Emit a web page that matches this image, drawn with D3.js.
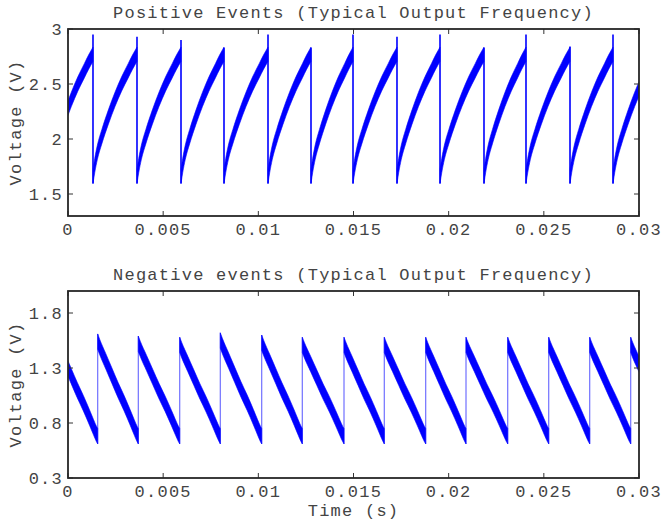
<!DOCTYPE html>
<html>
<head>
<meta charset="utf-8">
<script src="https://cdn.jsdelivr.net/npm/d3@7/dist/d3.min.js"></script>
<style>
  html, body { margin: 0; padding: 0; background: #fff; }
  svg { display: block; }
  text { font-family: "Liberation Mono", "Courier New", monospace; fill: #444; }
</style>
</head>
<body>
<script>
// ---- data ----
const timeTicks = [0, 0.005, 0.01, 0.015, 0.02, 0.025, 0.03];
const timeTickLabels = ["0", "0.005", "0.01", "0.015", "0.02", "0.025", "0.03"];

const posTicks = [1.5, 2, 2.5, 3];
const posTickLabels = ["1.5", "2", "2.5", "3"];
const negTicks = [0.3, 0.8, 1.3, 1.8];
const negTickLabels = ["0.3", "0.8", "1.3", "1.8"];

// Positive events: discharge instants (s) and the short spike reached at each one (V)
const posResets = [0.001313, 0.003625, 0.005937, 0.008196, 0.010508, 0.012767, 0.014974,
                   0.017285, 0.019545, 0.021856, 0.024063, 0.026375, 0.028634];
const posSpikes = [2.95, 2.93, 2.90, 2.83, 2.95, 2.83, 2.95, 2.93, 2.95, 2.83, 2.95, 2.84, 2.95];
// charging ramp between two discharges: fraction of the cycle -> centre voltage
const posRiseFrac  = [0, 0.04, 0.10, 0.20, 0.35, 0.50, 0.65, 0.80, 0.90, 1.00];
const posRiseVolts = [1.66, 1.76, 1.88, 2.02, 2.20, 2.36, 2.50, 2.62, 2.70, 2.77];
const posNoise = 0.065;   // half-width of the noise band (V)

// Negative events: reset instants (s) and the level each ramp starts from (V)
const negResets = [0.001560, 0.003694, 0.005869, 0.008002, 0.010177, 0.012310, 0.014501,
                   0.016618, 0.018793, 0.020911, 0.023102, 0.025256, 0.027410, 0.029564];
const negPeaks  = [1.61, 1.59, 1.58, 1.62, 1.60, 1.58, 1.58, 1.58, 1.58, 1.58, 1.58, 1.58, 1.58, 1.58];
// falling ramp between two resets: fraction of the cycle -> centre voltage
const negFallFrac  = [0, 0.05, 0.20, 0.35, 0.50, 0.65, 0.80, 0.90, 0.97, 1.00];
const negFallVolts = [1.54, 1.49, 1.36, 1.23, 1.10, 0.98, 0.85, 0.76, 0.70, 0.68];
const negNoise = 0.07;

// ---- layout ----
const W = 663, H = 522;
const svg = d3.select("body").append("svg").attr("width", W).attr("height", H);
svg.append("rect").attr("width", W).attr("height", H).attr("fill", "#fff");

const left = 68, right = 639;
const x = d3.scaleLinear().domain([0, 0.03]).range([left, right]);

// build ramp segments: one per cycle, plus the partial cycles at both ends.
// startFor(i) gives the level the i-th ramp starts from; the end level is kept.
function buildCycles(resets, frac, volts, startFor) {
  const period = d3.mean(d3.pairs(resets), p => p[1] - p[0]);
  const starts = [resets[0] - period, ...resets];
  const ends = [...resets, resets[resets.length - 1] + period];
  const v0 = volts[0], v1 = volts[volts.length - 1];
  return starts.map((s, i) => {
    const first = startFor(i);
    return frac.map((f, k) => ({
      t: s + f * (ends[i] - s),
      v: v1 + (volts[k] - v1) * (first - v1) / (v0 - v1)
    }));
  });
}

function drawPanel(cfg) {
  const { top, bottom, yDomain, ticks, tickLabels, title, id } = cfg;
  const y = d3.scaleLinear().domain(yDomain).range([bottom, top]);
  const g = svg.append("g");

  g.append("clipPath").attr("id", id)
    .append("rect").attr("x", left).attr("y", top)
    .attr("width", right - left).attr("height", bottom - top);

  const plot = g.append("g").attr("clip-path", `url(#${id})`);

  // thin reset / discharge strokes
  plot.selectAll("path.reset").data(cfg.resetLines).join("path")
    .attr("class", "reset")
    .attr("d", d3.line().x(d => x(d.t)).y(d => y(d.v)))
    .attr("fill", "none")
    .attr("stroke", cfg.resetColor)
    .attr("stroke-width", cfg.resetWidth);

  // noisy ramps drawn as a band of +/- noise around the centre trace
  const band = d3.area()
    .x(d => x(d.t))
    .y0(d => y(d.v - cfg.noise))
    .y1(d => y(d.v + cfg.noise))
    .curve(d3.curveMonotoneX);
  plot.selectAll("path.ramp").data(cfg.cycles).join("path")
    .attr("class", "ramp")
    .attr("d", band)
    .attr("fill", "#0000ff")
    .attr("stroke", "#0000ff")
    .attr("stroke-width", 0.6);

  // ticks (inside, on all four sides)
  const tk = 5;
  const tickG = g.append("g").attr("stroke", "#333").attr("stroke-width", 1);
  timeTicks.forEach(t => {
    tickG.append("line").attr("x1", x(t)).attr("x2", x(t)).attr("y1", bottom).attr("y2", bottom - tk);
    tickG.append("line").attr("x1", x(t)).attr("x2", x(t)).attr("y1", top).attr("y2", top + tk);
  });
  ticks.forEach(v => {
    tickG.append("line").attr("x1", left).attr("x2", left + tk).attr("y1", y(v)).attr("y2", y(v));
    tickG.append("line").attr("x1", right).attr("x2", right - tk).attr("y1", y(v)).attr("y2", y(v));
  });

  // frame
  g.append("rect").attr("x", left).attr("y", top)
    .attr("width", right - left).attr("height", bottom - top)
    .attr("fill", "none").attr("stroke", "#262626").attr("stroke-width", 1.8);

  const fs = 17, ls = 1.25;
  // x tick labels
  g.selectAll("text.xt").data(timeTicks).join("text")
    .attr("class", "xt")
    .attr("x", d => x(d)).attr("y", bottom + 19)
    .attr("text-anchor", "middle")
    .attr("font-size", fs).attr("letter-spacing", ls)
    .text((d, i) => timeTickLabels[i]);
  // y tick labels
  g.selectAll("text.yt").data(ticks).join("text")
    .attr("class", "yt")
    .attr("x", left - 5).attr("y", d => y(d))
    .attr("dy", "0.35em")
    .attr("text-anchor", "end")
    .attr("font-size", fs).attr("letter-spacing", ls)
    .text((d, i) => tickLabels[i]);
  // y axis title
  g.append("text")
    .attr("transform", `translate(21,${(top + bottom) / 2}) rotate(-90)`)
    .attr("text-anchor", "middle")
    .attr("font-size", fs).attr("letter-spacing", ls)
    .text("Voltage (V)");
  // panel title
  g.append("text")
    .attr("x", (left + right) / 2).attr("y", top - 11)
    .attr("text-anchor", "middle")
    .attr("font-size", fs).attr("letter-spacing", ls)
    .text(title);
}

// ---- positive events panel ----
const posCycles = buildCycles(posResets, posRiseFrac, posRiseVolts, () => posRiseVolts[0]);
const posLines = posResets.map((t, i) => [
  { t, v: posRiseVolts[posRiseVolts.length - 1] },
  { t, v: posSpikes[i] },
  { t, v: posRiseVolts[0] - posNoise }
]);
drawPanel({
  id: "clipPos", top: 29, bottom: 216, yDomain: [1.3, 3],
  ticks: posTicks, tickLabels: posTickLabels,
  title: "Positive Events (Typical Output Frequency)",
  cycles: posCycles, noise: posNoise,
  resetLines: posLines, resetColor: "#0000ff", resetWidth: 1.6
});

// ---- negative events panel ----
const negCycles = buildCycles(negResets, negFallFrac, negFallVolts,
  i => negPeaks[Math.max(0, i - 1)] - negNoise);
const negLines = negResets.map((t, i) => [
  { t, v: negFallVolts[negFallVolts.length - 1] - negNoise },
  { t, v: negPeaks[i] }
]);
drawPanel({
  id: "clipNeg", top: 291, bottom: 478, yDomain: [0.3, 2.0],
  ticks: negTicks, tickLabels: negTickLabels,
  title: "Negative events (Typical Output Frequency)",
  cycles: negCycles, noise: negNoise,
  resetLines: negLines, resetColor: "#7070ff", resetWidth: 1.2
});

// shared x-axis title
svg.append("text")
  .attr("x", (left + right) / 2).attr("y", 516)
  .attr("text-anchor", "middle")
  .attr("font-size", 17).attr("letter-spacing", 1.25)
  .text("Time (s)");
</script>
</body>
</html>
